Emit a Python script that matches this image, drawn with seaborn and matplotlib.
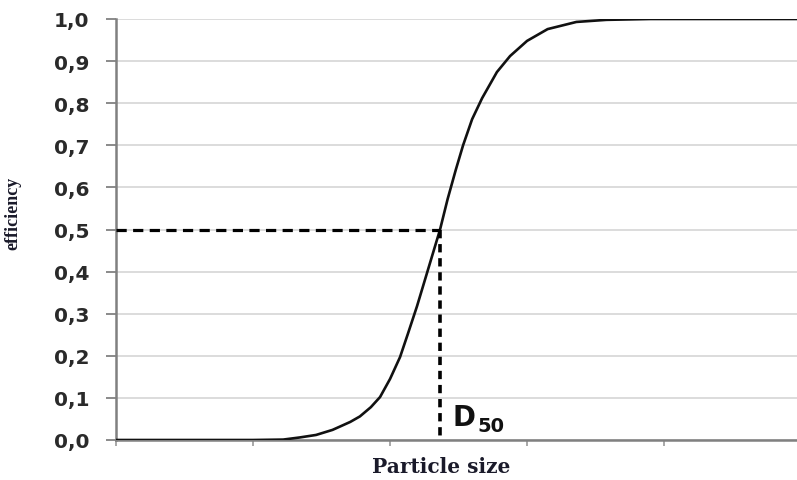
import matplotlib
matplotlib.use("Agg")
import matplotlib.pyplot as plt
import seaborn as sns
import pandas as pd

# Data (x in tick units, ticks unlabeled)
particle_size = [0.0, 1.0, 1.22, 1.34, 1.46, 1.58, 1.635, 1.71, 1.78, 1.86, 1.927, 2.0,
                 2.073, 2.13, 2.197, 2.27, 2.365, 2.42, 2.48, 2.533, 2.599, 2.672,
                 2.78, 2.876, 3.0, 3.15, 3.36, 3.58, 3.90, 4.97]
efficiency = [0.0, 0.0, 0.001, 0.006, 0.012, 0.024, 0.032, 0.043, 0.056, 0.078, 0.102, 0.145,
              0.197, 0.252, 0.318, 0.397, 0.500, 0.572, 0.642, 0.700, 0.762, 0.812,
              0.874, 0.912, 0.948, 0.976, 0.993, 0.998, 1.0, 1.0]
y_ticks = [0.0, 0.1, 0.2, 0.3, 0.4, 0.5, 0.6, 0.7, 0.8, 0.9, 1.0]
y_tick_labels = ["0,0", "0,1", "0,2", "0,3", "0,4", "0,5", "0,6", "0,7", "0,8", "0,9", "1,0"]
x_ticks = [0, 1, 2, 3, 4]
d50_x = 2.365
d50_y = 0.5

df = pd.DataFrame({"Particle size": particle_size, "efficiency": efficiency})

sns.set_theme(style="white")
plt.rcParams["font.family"] = ["DejaVu Sans"]

fig = plt.figure(figsize=(7.97, 4.81), dpi=100)
ax = fig.add_axes([116 / 797, 1 - 441 / 481, 681 / 797, 421 / 481])

# grid
ax.set_yticks(y_ticks)
ax.yaxis.grid(True, color="#d6d6d6", linewidth=1.2)
ax.xaxis.grid(False)
ax.set_axisbelow(True)

sns.lineplot(data=df, x="Particle size", y="efficiency", color="#111111",
             linewidth=1.9, ax=ax, zorder=3)

# D50 dashed guide lines
ax.plot([0, d50_x], [d50_y, d50_y], color="black", linewidth=2.3,
        linestyle=(0, (3.2, 2.0)), zorder=4, dash_capstyle="butt")
ax.plot([d50_x, d50_x], [d50_y, 0], color="black", linewidth=2.6,
        linestyle=(0, (2.3, 1.6)), zorder=4, dash_capstyle="butt")

ax.text(d50_x + 0.09, 0.035, "D", fontsize=20, fontweight="bold",
        family="DejaVu Sans", ha="left", va="baseline", zorder=5, color="#111111")
ax.text(d50_x + 0.275, 0.022, "50", fontsize=14, fontweight="bold",
        family="DejaVu Sans", ha="left", va="baseline", zorder=5, color="#111111")

ax.set_xlim(0, 4.97)
ax.set_ylim(0, 1.0)
ax.set_xticks(x_ticks)
ax.set_xticklabels([""] * len(x_ticks))
ax.set_yticklabels(y_tick_labels, fontsize=14.5, fontweight="bold", color="#2a2a2a",
                   family="DejaVu Sans")

ax.tick_params(axis="y", direction="out", length=7, width=1.2, color="#777777", pad=12, left=True)
ax.tick_params(axis="x", direction="out", length=4, width=1.2, color="#999999", bottom=True)

for s in ["top", "right"]:
    ax.spines[s].set_visible(False)
for s in ["left", "bottom"]:
    ax.spines[s].set_color("#808080")
    ax.spines[s].set_linewidth(1.8)

ax.set_xlabel("")
ax.set_ylabel("")
fig.text(441 / 797, 1 - 467 / 481, "Particle size", ha="center", va="center",
         fontsize=14.5, fontweight="bold", family="DejaVu Serif",
         color="#1a1a2a")
fig.text(13 / 797, 1 - 213 / 481, "efficiency", ha="center", va="center", rotation=90,
         fontsize=13, fontweight="bold", family="Liberation Serif",
         color="#1a1a2a")

fig.savefig("out.png", dpi=100)
